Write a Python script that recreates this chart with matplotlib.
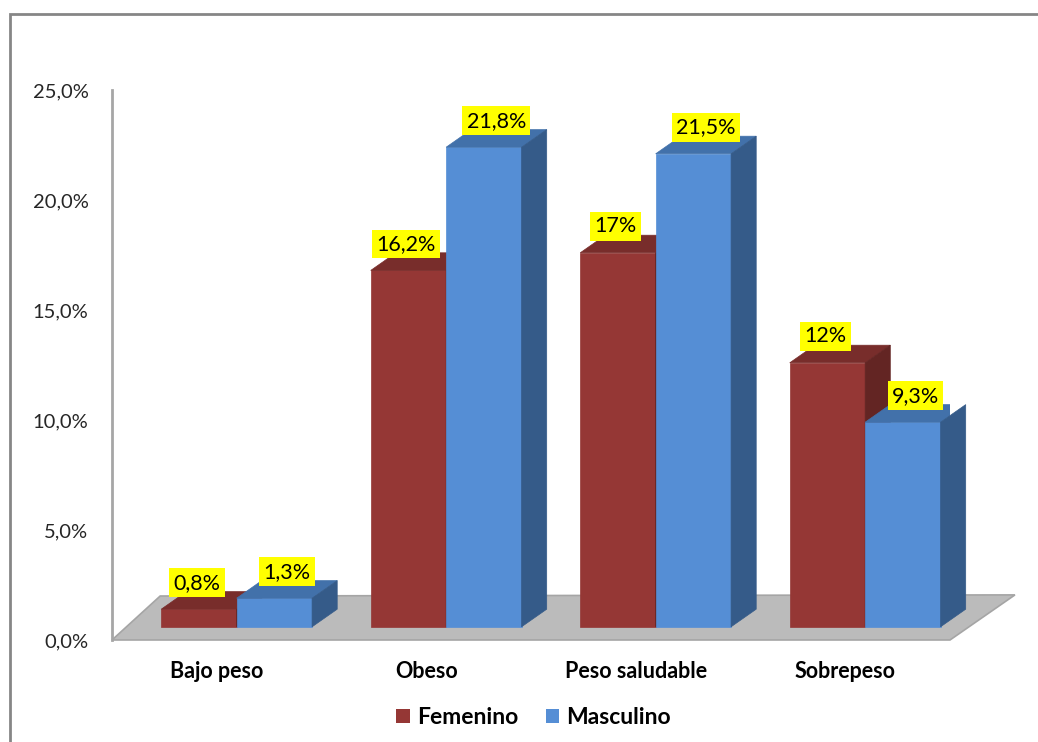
import matplotlib.pyplot as plt
import numpy as np
from matplotlib.patches import Polygon, Patch, Rectangle

plt.rcParams['font.family'] = ['Lato', 'DejaVu Sans']

categories = ['Bajo peso', 'Obeso', 'Peso saludable', 'Sobrepeso']
femenino = [0.8, 16.2, 17.0, 12.0]
masculino = [1.3, 21.8, 21.5, 9.3]
fem_labels = ['0,8%', '16,2%', '17%', '12%']
masc_labels = ['1,3%', '21,8%', '21,5%', '9,3%']
yticks = [0, 5, 10, 15, 20, 25]

# colours: front, top, side
red = ('#953735', '#782D2B', '#632523')
blue = ('#558ED5', '#4271AA', '#355B89')

# 3d look
width = 0.36
base = 0.6        # bars stand a bit behind the front edge of the floor
ddx, ddy = 0.12, 0.8   # bar depth (x units, % units)

fig = plt.figure(figsize=(10.38, 7.42), dpi=100)
ax = fig.add_axes([112/1038, 102/742, 838/1038, 550/742])
ax.set_xlim(-0.5, 3.5)
ax.set_ylim(0, 25)

x = np.arange(len(categories))

# floor
floor = Polygon([(-0.5, 0), (3.5, 0), (3.81, 2.05), (-0.27, 2.0)], closed=True,
                facecolor='#BBBBBB', edgecolor='#A5A5A5', lw=1.2, zorder=1, clip_on=False)
ax.add_patch(floor)


def bars3d(left, vals, cols):
    ax.bar(left, vals, width=width, bottom=base, align='edge', color=cols[0],
           edgecolor=cols[0], lw=0.5, zorder=3)
    for l, v in zip(left, vals):
        top = base + v
        ax.add_patch(Polygon([(l, top), (l + width, top), (l + width + ddx, top + ddy),
                              (l + ddx, top + ddy)], closed=True, facecolor=cols[1],
                             edgecolor=cols[1], lw=0.5, zorder=3))
        ax.add_patch(Polygon([(l + width, base), (l + width + ddx, base + ddy),
                              (l + width + ddx, top + ddy), (l + width, top)], closed=True,
                             facecolor=cols[2], edgecolor=cols[2], lw=0.5, zorder=3,
                             clip_on=False))


red_left = x - 0.265
blue_left = x + 0.095
bars3d(red_left, femenino, red)
bars3d(blue_left, masculino, blue)

box = dict(boxstyle='square,pad=0.2', facecolor='#FFFF00', edgecolor='none')
for l, v, t in zip(red_left, femenino, fem_labels):
    ax.text(l + width/2 - 0.01, base + v + 1.2, t, ha='center', va='center',
            fontsize=15.5, color='black', bbox=box, zorder=5)
for l, v, t in zip(blue_left, masculino, masc_labels):
    ax.text(l + width/2 + ddx/2, base + v + 1.2, t, ha='center', va='center',
            fontsize=15.5, color='black', bbox=box, zorder=5)

ax.set_yticks(yticks)
ax.set_yticklabels([s.replace('.', ',') for s in ['%.1f%%' % v for v in yticks]])
ax.set_xticks(x)
ax.set_xticklabels(categories, fontsize=15.5, fontweight='bold')
ax.tick_params(axis='y', length=0, pad=17, labelsize=14.5, labelcolor='#262626')
ax.tick_params(axis='x', length=0, pad=15, labelcolor='black')

for s in ['top', 'right', 'bottom']:
    ax.spines[s].set_visible(False)
ax.spines['left'].set_color('#A6A6A6')
ax.spines['left'].set_linewidth(2)
ax.patch.set_alpha(0)

handles = [Patch(facecolor=red[0], label='Femenino'), Patch(facecolor=blue[0], label='Masculino')]
leg = ax.legend(handles=handles, loc='center', bbox_to_anchor=(0.503, -0.141), ncol=2,
                frameon=False, prop={'size': 16.5, 'weight': 'bold'}, handlelength=0.6,
                handleheight=0.6, handletextpad=0.3, columnspacing=1.2)

# chart area border
fig.add_artist(Rectangle((10/1038, -0.1), 1.2, 0.1 + 728/742, transform=fig.transFigure,
                         fill=False, edgecolor='#868686', lw=2))

fig.savefig('out.png', dpi=100)
